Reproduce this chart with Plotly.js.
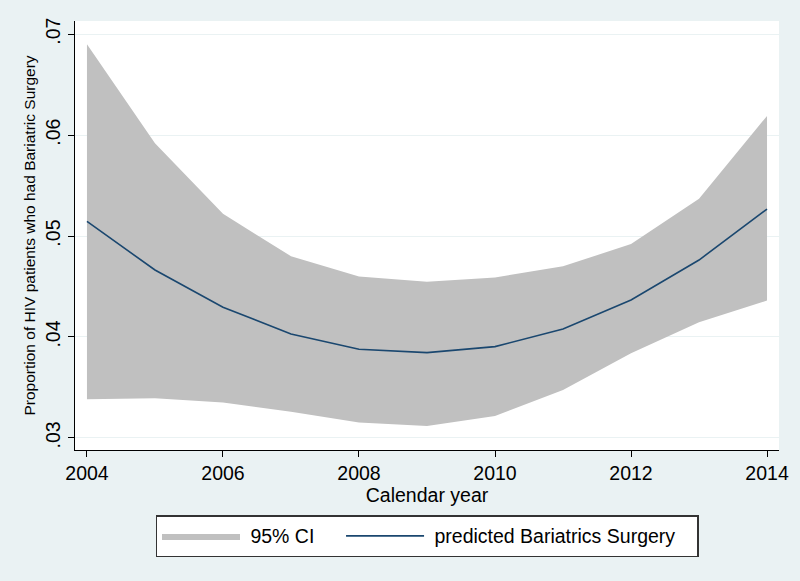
<!DOCTYPE html>
<html>
<head>
<meta charset="utf-8">
<script src="https://cdn.plot.ly/plotly-3.0.1.min.js"></script>
<style>html,body{margin:0;padding:0;background:#EAF2F3;}#chart{width:800px;height:581px;}</style>
</head>
<body>
<div id="chart"></div>
<script>
const years = [2004, 2005, 2006, 2007, 2008, 2009, 2010, 2011, 2012, 2013, 2014];
const predicted = [0.05145, 0.04663, 0.04294, 0.04030, 0.03878, 0.03845, 0.03904, 0.04079, 0.04366, 0.04762, 0.05267];
const ciUpper = [0.0690, 0.0592, 0.0522, 0.0480, 0.0460, 0.04548, 0.0459, 0.0470, 0.0492, 0.0537, 0.0619];
const ciLower = [0.03383, 0.03393, 0.0335, 0.0326, 0.03152, 0.03119, 0.03218, 0.03475, 0.03838, 0.04146, 0.0436];
const yTickVals = [0.03, 0.04, 0.05, 0.06, 0.07];
const yTickText = ['.03', '.04', '.05', '.06', '.07'];
const xTickVals = [2004, 2006, 2008, 2010, 2012, 2014];
const seriesNames = ['95% CI', 'predicted Bariatrics Surgery'];

const nb = n => '\u00a0'.repeat(n);

const traces = [
  {x: years, y: ciLower, type: 'scatter', mode: 'lines', line: {width: 0, color: '#C0C0C0'},
   showlegend: false, hoverinfo: 'skip'},
  {x: years, y: ciUpper, type: 'scatter', mode: 'lines', line: {width: 0, color: '#C0C0C0'},
   fill: 'tonexty', fillcolor: '#C0C0C0', name: nb(1) + seriesNames[0] + nb(4)},
  {x: years, y: predicted, type: 'scatter', mode: 'lines', line: {width: 1.6, color: '#1A476F'},
   name: nb(1) + seriesNames[1] + nb(3)}
];

const layout = {
  width: 800, height: 581,
  paper_bgcolor: '#EAF2F3', plot_bgcolor: '#FFFFFF',
  margin: {l: 75, r: 21, t: 21, b: 131},
  font: {family: 'Arial, "Liberation Sans", sans-serif', color: '#000'},
  xaxis: {
    range: [2003.824, 2014.176], tickvals: xTickVals, ticks: 'outside', ticklen: 6, tickcolor: '#000',
    showline: true, linecolor: '#000', linewidth: 1, showgrid: false, zeroline: false,
    tickfont: {size: 19.5}, title: {text: 'Calendar year', font: {size: 19.5}, standoff: 0}
  },
  yaxis: {
    range: [0.0288, 0.0713], tickvals: yTickVals, ticktext: yTickText, tickangle: -90,
    ticks: 'outside', ticklen: 6, tickcolor: '#000',
    showline: true, linecolor: '#000', linewidth: 1, showgrid: true, gridcolor: '#EAF2F3', gridwidth: 1,
    zeroline: false, tickfont: {size: 19.5},
    title: {text: 'Proportion of HIV patients who had Bariatric Surgery', font: {size: 15.5}, standoff: 2}
  },
  legend: {
    orientation: 'h', x: 0.5, xanchor: 'center', y: -0.152, yanchor: 'top',
    bgcolor: '#FFFFFF', bordercolor: '#333', borderwidth: 1.5,
    font: {size: 19.5}, itemwidth: 78, traceorder: 'normal'
  },
  showlegend: true
};

Plotly.newPlot('chart', traces, layout, {displayModeBar: false, staticPlot: true});
</script>
</body>
</html>
